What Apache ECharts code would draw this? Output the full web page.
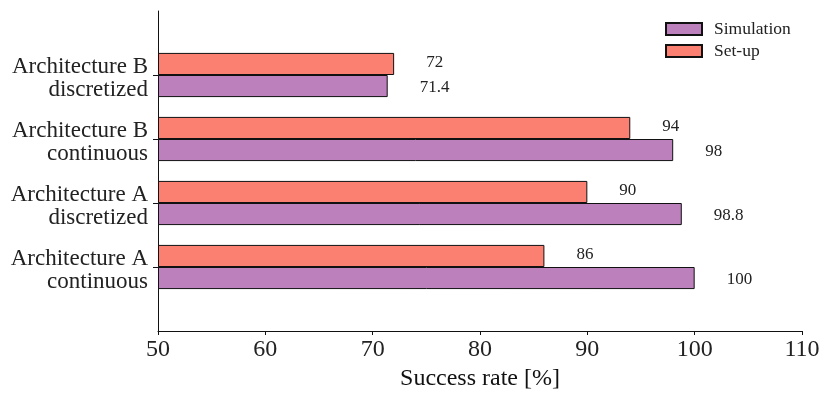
<!DOCTYPE html>
<html>
<head>
<meta charset="utf-8">
<script src="https://cdn.jsdelivr.net/npm/echarts@6/dist/echarts.min.js"></script>
<style>
  html, body { margin: 0; padding: 0; background: #fff; }
  #chart { width: 830px; height: 398px; }
</style>
</head>
<body>
<div id="chart"></div>
<script>
// categories, bottom to top
var categories = ['Architecture A\ncontinuous', 'Architecture A\ndiscretized', 'Architecture B\ncontinuous', 'Architecture B\ndiscretized'];
var simulation = [100, 98.8, 98, 71.4];
var setup = [86, 90, 94, 72];
var xTicks = [50, 110, 10]; // min, max, step

// pad one empty slot at each end so the y axis runs from -1 to 4
var yCats = [''].concat(categories, ['']);
function pad(arr) { return [null].concat(arr, [null]); }

var serif = '"Liberation Serif", "DejaVu Serif", serif';
var myChart = echarts.init(document.getElementById('chart'));

var barLabel = function (dy) {
    return {
        show: true,
        position: 'right',
        distance: 32,
        offset: [0, dy],
        fontFamily: serif,
        fontSize: 17,
        color: '#222'
    };
};

var option = {
    animation: false,
    textStyle: { fontFamily: serif },
    grid: {
        left: 158,
        right: 28,
        top: 11,
        bottom: 67
    },
    legend: {
        orient: 'vertical',
        left: 665,
        top: 20,
        padding: 0,
        itemWidth: 36,
        itemHeight: 12,
        itemGap: 4,
        icon: 'rect',
        textStyle: { fontFamily: serif, fontSize: 17.5, color: '#222', padding: [0, 0, 0, 7] },
        data: ['Simulation', 'Set-up']
    },
    xAxis: {
        type: 'value',
        min: xTicks[0],
        max: xTicks[1],
        interval: xTicks[2],
        startValue: xTicks[0],
        name: 'Success rate [%]',
        nameLocation: 'middle',
        nameGap: 32,
        nameTextStyle: { fontFamily: serif, fontSize: 24, color: '#111' },
        splitLine: { show: false },
        axisLine: { show: true, lineStyle: { color: '#111', width: 1 } },
        axisTick: { show: true, length: 4, lineStyle: { color: '#111' } },
        axisLabel: { fontFamily: serif, fontSize: 24, color: '#222', margin: 7 }
    },
    yAxis: {
        type: 'category',
        boundaryGap: false,
        data: yCats,
        axisLine: { show: true, lineStyle: { color: '#111', width: 1 } },
        axisTick: {
            show: true,
            length: 5,
            lineStyle: { color: '#111' },
            interval: function (i) { return i > 0 && i < yCats.length - 1; }
        },
        axisLabel: {
            interval: 0,
            fontFamily: serif,
            fontSize: 23,
            lineHeight: 23,
            color: '#222',
            align: 'right',
            margin: 10,
            // small spacer line on top nudges the two-line label down a bit
            formatter: function (v) { return v ? '{g| }\n' + v : ''; },
            rich: { g: { fontSize: 4, lineHeight: 6 } }
        },
        splitLine: { show: false }
    },
    series: [{
        name: 'Set-up',
        type: 'bar',
        data: pad(setup),
        barGap: '0%',
        barCategoryGap: '31%',
        itemStyle: { color: '#fb8072', borderColor: '#111', borderWidth: 1 },
        label: barLabel(-1)
    }, {
        name: 'Simulation',
        type: 'bar',
        data: pad(simulation),
        barGap: '0%',
        barCategoryGap: '31%',
        itemStyle: { color: '#bc80bd', borderColor: '#111', borderWidth: 1 },
        label: barLabel(1)
    }]
};

myChart.setOption(option);
</script>
</body>
</html>
